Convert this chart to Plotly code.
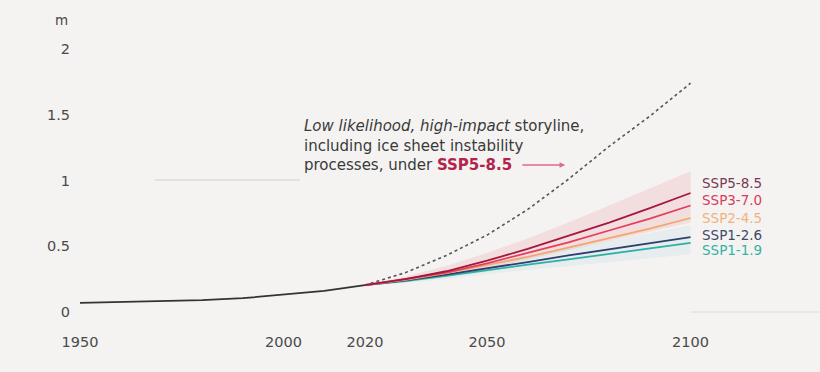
import plotly.graph_objects as go

# ---- data (metres) ----
hist_years = [1950, 1960, 1970, 1980, 1990, 2000, 2010, 2020]
hist_vals = [0.07, 0.075, 0.08, 0.09, 0.105, 0.13, 0.16, 0.205]

proj_years = [2020, 2030, 2040, 2050, 2060, 2070, 2080, 2090, 2100]
ssp585 = [0.205, 0.25, 0.31, 0.39, 0.48, 0.58, 0.68, 0.79, 0.905]
ssp370 = [0.205, 0.25, 0.30, 0.37, 0.45, 0.53, 0.62, 0.71, 0.81]
ssp245 = [0.205, 0.245, 0.295, 0.355, 0.42, 0.49, 0.56, 0.635, 0.715]
ssp126 = [0.205, 0.24, 0.285, 0.33, 0.38, 0.43, 0.475, 0.52, 0.57]
ssp119 = [0.205, 0.235, 0.275, 0.32, 0.36, 0.40, 0.44, 0.48, 0.525]
storyline = [0.205, 0.30, 0.43, 0.585, 0.78, 1.01, 1.26, 1.49, 1.74]

band585_lo = [0.205, 0.23, 0.27, 0.33, 0.40, 0.47, 0.54, 0.61, 0.68]
band585_hi = [0.205, 0.27, 0.35, 0.45, 0.56, 0.68, 0.81, 0.94, 1.07]
band126_lo = [0.205, 0.22, 0.25, 0.29, 0.32, 0.35, 0.38, 0.41, 0.44]
band126_hi = [0.205, 0.25, 0.30, 0.36, 0.42, 0.48, 0.54, 0.60, 0.66]

names = ["SSP5-8.5", "SSP3-7.0", "SSP2-4.5", "SSP1-2.6", "SSP1-1.9"]
series = [ssp585, ssp370, ssp245, ssp126, ssp119]
colors = ["#a5173f", "#e2405c", "#f2a66e", "#2e3f6e", "#2bb2a4"]
label_colors = ["#7a3a55", "#d83c5c", "#f2b27e", "#3f4a6a", "#34b3a3"]
label_y = [0.981, 0.852, 0.712, 0.586, 0.474]

x_ticks = [1950, 2000, 2020, 2050, 2100]
y_ticks = [0, 0.5, 1, 1.5, 2]
y_ticktext = ["0", "0.5", "1", "1.5", "2"]

FONT = "'DejaVu Sans', Verdana, sans-serif"
BG = "#f4f3f1"
TICK_COLOR = "#4a4a4a"

fig = go.Figure()

# uncertainty bands
fig.add_trace(go.Scatter(x=proj_years, y=band585_lo, mode="lines", line=dict(width=0),
                         showlegend=False, hoverinfo="skip"))
fig.add_trace(go.Scatter(x=proj_years, y=band585_hi, mode="lines", line=dict(width=0),
                         fill="tonexty", fillcolor="rgba(232,70,100,0.12)",
                         showlegend=False, hoverinfo="skip"))
fig.add_trace(go.Scatter(x=proj_years, y=band126_lo, mode="lines", line=dict(width=0),
                         showlegend=False, hoverinfo="skip"))
fig.add_trace(go.Scatter(x=proj_years, y=band126_hi, mode="lines", line=dict(width=0),
                         fill="tonexty", fillcolor="rgba(120,180,220,0.10)",
                         showlegend=False, hoverinfo="skip"))

# storyline (dotted)
fig.add_trace(go.Scatter(x=proj_years, y=storyline, mode="lines",
                         line=dict(color="#555555", width=1.6, dash="dot"),
                         showlegend=False, hoverinfo="skip"))

# projections (draw low first)
for name, vals, col in reversed(list(zip(names, series, colors))):
    fig.add_trace(go.Scatter(x=proj_years, y=vals, mode="lines", name=name,
                             line=dict(color=col, width=1.8), showlegend=False))

# history
fig.add_trace(go.Scatter(x=hist_years, y=hist_vals, mode="lines",
                         line=dict(color="#333333", width=1.8), showlegend=False))

annotations = []
for name, ly, lc in zip(names, label_y, label_colors):
    annotations.append(dict(x=2102.3, y=ly, xref="x", yref="y", text=name,
                            showarrow=False, xanchor="left", yanchor="middle",
                            font=dict(family=FONT, size=13.5, color=lc)))

annotations.append(dict(
    x=2004.5, y=1.27, xref="x", yref="y", xanchor="left", yanchor="middle", align="left",
    showarrow=False,
    text=("<i>Low likelihood, high-impact</i> storyline,<br>"
          "including ice sheet instability<br>"
          "processes, under <b><span style='color:#b3234b'>SSP5-8.5</span></b>"),
    font=dict(family=FONT, size=15, color="#3a3a3a")))

annotations.append(dict(
    x=2069.2, y=1.118, ax=2058.3, ay=1.118, xref="x", yref="y", axref="x", ayref="y",
    text="", showarrow=True, arrowhead=2, arrowsize=0.8, arrowwidth=1.4,
    arrowcolor="#e06a88"))

annotations.append(dict(x=1949.02, y=2.22, xref="x", yref="y", text="m", showarrow=False,
                        xanchor="right", xshift=-6,
                        font=dict(family=FONT, size=13.5, color=TICK_COLOR)))

fig.update_layout(
    width=820, height=372,
    margin=dict(l=76, r=0, t=0, b=50),
    paper_bgcolor=BG, plot_bgcolor=BG,
    font=dict(family=FONT, size=14, color=TICK_COLOR),
    xaxis=dict(range=[1949.02, 2131.8], tickvals=x_ticks, ticktext=[str(v) for v in x_ticks],
               showgrid=False, zeroline=False, showline=False, ticks="",
               ticklabelstandoff=9, tickfont=dict(size=14.5, color=TICK_COLOR)),
    yaxis=dict(range=[-0.076, 2.373], tickvals=y_ticks, ticktext=y_ticktext,
               showgrid=False, zeroline=False, showline=False, ticks="",
               ticklabelstandoff=5, tickfont=dict(size=14.5, color=TICK_COLOR)),
    annotations=annotations,
    shapes=[
        dict(type="line", xref="x", yref="y", x0=1968.4, x1=2004.0, y0=1.004, y1=1.004,
             line=dict(color="#cfcfcc", width=1), layer="below"),
        dict(type="line", xref="x", yref="y", x0=2100, x1=2131.8, y0=0, y1=0,
             line=dict(color="#dcdcd8", width=1), layer="below"),
    ],
)

fig.write_html("out.html")
